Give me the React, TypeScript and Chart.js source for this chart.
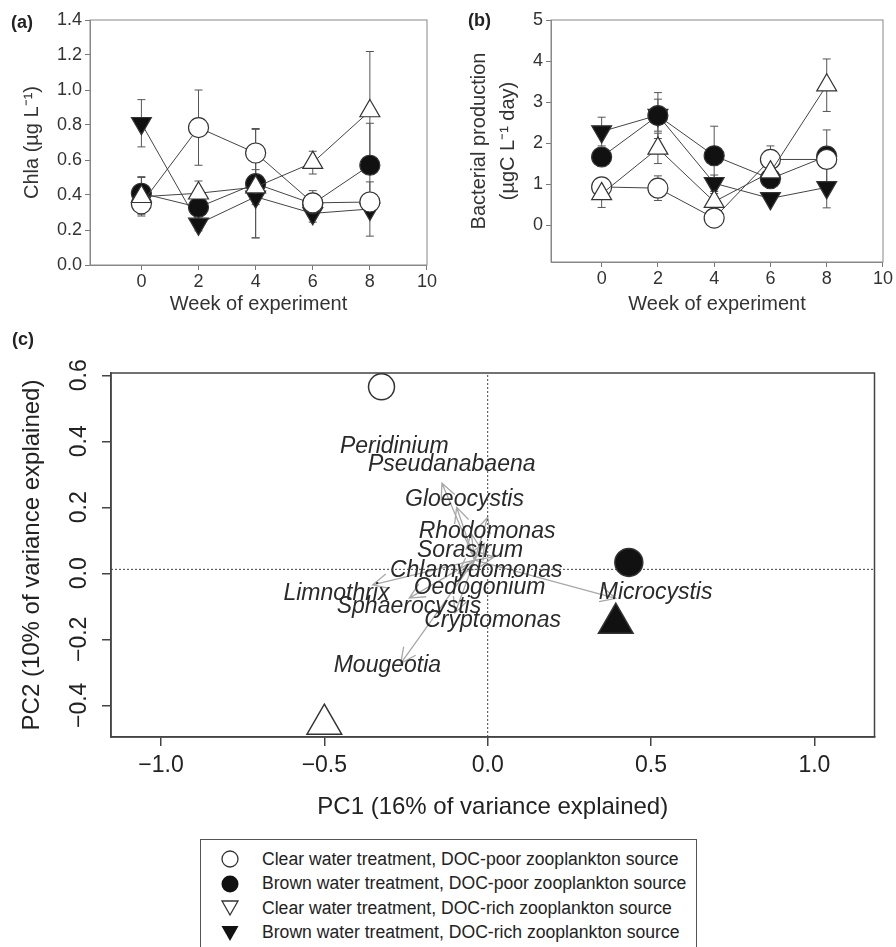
import React, { useEffect, useRef } from "react";
import { Chart, registerables } from "chart.js";
Chart.register(...registerables);

const FONT = '"Liberation Sans", Arial, Helvetica, sans-serif';

// ---------- shared ----------
const weeks = [0, 2, 4, 6, 8];
const weekTicks = [0, 2, 4, 6, 8, 10];
const treatmentNames = [
  "Clear water treatment, DOC-poor zooplankton source",
  "Brown water treatment, DOC-poor zooplankton source",
  "Clear water treatment, DOC-rich zooplankton source",
  "Brown water treatment, DOC-rich zooplankton source",
];

// ---------- (a) Chla ----------
const chlaTicks = [0, 0.2, 0.4, 0.6, 0.8, 1.0, 1.2, 1.4];
const chlaClearPoor = [0.35, 0.785, 0.64, 0.355, 0.36];
const chlaClearPoorSE = [0.06, 0.215, 0.14, 0.07, 0.05];
const chlaBrownPoor = [0.41, 0.33, 0.465, 0.35, 0.57];
const chlaBrownPoorSE = [0.095, 0.04, 0.31, 0.05, 0.24];
const chlaClearRich = [0.39, 0.41, 0.445, 0.585, 0.88];
const chlaClearRichSE = [0.11, 0.07, 0.1, 0.065, 0.34];
const chlaBrownRich = [0.81, 0.235, 0.39, 0.295, 0.32];
const chlaBrownRichSE = [0.135, 0.04, 0.235, 0.05, 0.155];

// ---------- (b) Bacterial production ----------
const bpTicks = [0, 1, 2, 3, 4, 5];
const bpClearPoor = [0.93, 0.9, 0.17, 1.6, 1.6];
const bpClearPoorSE = [0.18, 0.3, 0.1, 0.33, 0.16];
const bpBrownPoor = [1.66, 2.67, 1.69, 1.13, 1.68];
const bpBrownPoorSE = [0.12, 0.56, 0.72, 0.1, 0.64];
const bpClearRich = [0.76, 1.87, 0.57, 1.29, 3.41];
const bpClearRichSE = [0.33, 0.37, 0.2, 0.15, 0.64];
const bpBrownRich = [2.28, 2.68, 1.02, 0.65, 0.92];
const bpBrownRichSE = [0.35, 0.39, 0.2, 0.08, 0.5];

// ---------- (c) PCA ----------
const pcXTicks = [-1, -0.5, 0, 0.5, 1];
const pcYTicks = [-0.4, -0.2, 0, 0.2, 0.4, 0.6];
const pcXLimits = [-1.153, 1.184];
const pcYLimits = [-0.496, 0.607];
const pcRefX = 0;
const pcRefY = 0.012;
const pcGroupX = [-0.325, 0.432, -0.5, 0.392];
const pcGroupY = [0.565, 0.033, -0.457, -0.151];
const speciesNames = [
  "Peridinium", "Pseudanabaena", "Gloeocystis", "Rhodomonas", "Sorastrum", "Chlamydomonas",
  "Oedogonium", "Limnothrix", "Sphaerocystis", "Cryptomonas", "Microcystis", "Mougeotia",
];
const speciesLabelX = [-0.286, -0.11, -0.071, -0.002, -0.054, -0.035, -0.025, -0.463, -0.241, 0.015, 0.514, -0.307];
const speciesLabelY = [0.384, 0.328, 0.222, 0.126, 0.068, 0.008, -0.042, -0.063, -0.101, -0.142, -0.058, -0.28];
const arrowOriginX = -0.04;
const arrowOriginY = 0.04;
const speciesArrowX = [-0.14, -0.095, 0.0, -0.05, -0.01, 0.02, -0.09, -0.352, -0.24, -0.1, 0.392, -0.266];
const speciesArrowY = [0.273, 0.2, 0.17, 0.12, 0.09, 0.05, 0.0, -0.035, -0.075, -0.12, -0.076, -0.273];

// ---------- styles ----------
const markerStyles = [
  { pointStyle: "circle", fill: "#ffffff", rotation: 0, radius: 10, order: 1 },
  { pointStyle: "circle", fill: "#111111", rotation: 0, radius: 10, order: 2 },
  { pointStyle: "triangle", fill: "#ffffff", rotation: 0, radius: 11.5, order: 0 },
  { pointStyle: "triangle", fill: "#111111", rotation: 180, radius: 11.5, order: 3 },
];
const pcaMarkerStyles = [
  { pointStyle: "circle", fill: "#ffffff", rotation: 0, radius: 13 },
  { pointStyle: "circle", fill: "#111111", rotation: 0, radius: 14 },
  { pointStyle: "triangle", fill: "#ffffff", rotation: 0, radius: 20 },
  { pointStyle: "triangle", fill: "#111111", rotation: 0, radius: 20 },
];

const framePlugin = {
  id: "frame",
  beforeDatasetsDraw(chart: any, _a: any, opts: any) {
    const { ctx, chartArea: ca } = chart;
    ctx.save();
    ctx.strokeStyle = opts.color || "#777";
    ctx.lineWidth = opts.width || 1;
    ctx.strokeRect(ca.left, ca.top, ca.right - ca.left, ca.bottom - ca.top);
    ctx.restore();
  },
};

const errorBarPlugin = {
  id: "errbars",
  beforeDatasetsDraw(chart: any) {
    const { ctx, scales } = chart;
    const xs = scales.x, ys = scales.y;
    ctx.save();
    ctx.strokeStyle = "#555";
    ctx.lineWidth = 1;
    chart.data.datasets.forEach((ds: any) => {
      if (!ds.errors) return;
      ds.data.forEach((pt: any, j: number) => {
        const e = ds.errors[j];
        const px = xs.getPixelForValue(pt.x);
        const yt = ys.getPixelForValue(pt.y + e);
        const yb = ys.getPixelForValue(pt.y - e);
        ctx.beginPath();
        ctx.moveTo(px, yt); ctx.lineTo(px, yb);
        ctx.moveTo(px - 4, yt); ctx.lineTo(px + 4, yt);
        ctx.moveTo(px - 4, yb); ctx.lineTo(px + 4, yb);
        ctx.stroke();
      });
    });
    ctx.restore();
  },
};

function timeConfig(
  series: number[][], errs: number[][], yMin: number, yMax: number, yTicks: number[],
  yFmt: (v: number) => string, yTitle: string | string[], yTitleFont: any, yTitlePad: number,
  yWidth: number, xHeight: number, padRight: number
) {
  return {
    type: "line",
    data: {
      datasets: series.map((vals, i) => ({
        label: treatmentNames[i],
        data: vals.map((v, j) => ({ x: weeks[j], y: v })),
        errors: errs[i],
        borderColor: "#444",
        borderWidth: 1,
        pointStyle: markerStyles[i].pointStyle,
        pointRadius: markerStyles[i].radius,
        pointBackgroundColor: markerStyles[i].fill,
        pointBorderColor: "#333",
        pointBorderWidth: 1.2,
        pointRotation: markerStyles[i].rotation,
        order: markerStyles[i].order,
        clip: false,
        tension: 0,
      })),
    },
    plugins: [framePlugin, errorBarPlugin],
    options: {
      animation: false,
      responsive: false,
      events: [],
      layout: { padding: { left: 0, right: padRight, top: 20, bottom: 0 } },
      plugins: { legend: { display: false }, tooltip: { enabled: false }, frame: { color: "#888", width: 1 } },
      scales: {
        x: {
          type: "linear", min: -1.8, max: 10,
          afterBuildTicks: (s: any) => { s.ticks = weekTicks.map((v) => ({ value: v })); },
          afterFit: (s: any) => { s.height = xHeight; },
          grid: { drawOnChartArea: false, drawTicks: true, tickLength: 5, color: "#777" },
          border: { color: "#888", width: 1 },
          ticks: { font: { family: FONT, size: 18, lineHeight: 1 }, color: "#333", padding: 3, maxRotation: 0, callback: (v: any) => String(v) },
          title: { display: true, text: "Week of experiment", font: { family: FONT, size: 20 }, color: "#333", padding: { top: 0, bottom: 4 } },
        },
        y: {
          type: "linear", min: yMin, max: yMax,
          afterBuildTicks: (s: any) => { s.ticks = yTicks.map((v) => ({ value: v })); },
          afterFit: (s: any) => { s.width = yWidth; },
          grid: { drawOnChartArea: false, drawTicks: true, tickLength: 5, color: "#777" },
          border: { color: "#888", width: 1 },
          ticks: { font: { family: FONT, size: 18 }, color: "#333", padding: 3, callback: (v: any) => yFmt(v) },
          title: { display: true, text: yTitle, font: yTitleFont, color: "#333", padding: { top: yTitlePad, bottom: 0 } },
        },
      },
    },
  };
}

const minus = (s: string) => s.replace("-", "\u2212");

const pcaPlugin = {
  id: "pca",
  beforeDatasetsDraw(chart: any) {
    const { ctx, scales } = chart;
    const xs = scales.x, ys = scales.y;
    const ox = xs.getPixelForValue(arrowOriginX), oy = ys.getPixelForValue(arrowOriginY);
    ctx.save();
    ctx.strokeStyle = "#a8a8a8";
    ctx.lineWidth = 1.3;
    speciesArrowX.forEach((ax, i) => {
      const tx = xs.getPixelForValue(ax), ty = ys.getPixelForValue(speciesArrowY[i]);
      const ang = Math.atan2(ty - oy, tx - ox);
      const hl = 17, ha = 0.45;
      ctx.beginPath();
      ctx.moveTo(ox, oy); ctx.lineTo(tx, ty);
      ctx.moveTo(tx - hl * Math.cos(ang - ha), ty - hl * Math.sin(ang - ha));
      ctx.lineTo(tx, ty);
      ctx.lineTo(tx - hl * Math.cos(ang + ha), ty - hl * Math.sin(ang + ha));
      ctx.stroke();
    });
    ctx.fillStyle = "#2a2a2a";
    ctx.font = `italic 23px ${FONT}`;
    ctx.textAlign = "center";
    ctx.textBaseline = "middle";
    speciesNames.forEach((nm, i) => {
      ctx.fillText(nm, xs.getPixelForValue(speciesLabelX[i]), ys.getPixelForValue(speciesLabelY[i]));
    });
    ctx.restore();
  },
  afterDraw(chart: any) {
    const { ctx, scales } = chart;
    const ys = scales.y;
    ctx.save();
    ctx.fillStyle = "#222";
    ctx.font = `23px ${FONT}`;
    ctx.textAlign = "center";
    ctx.textBaseline = "middle";
    ys.ticks.forEach((t: any) => {
      const py = ys.getPixelForValue(t.value);
      ctx.save();
      ctx.translate(80, py);
      ctx.rotate(-Math.PI / 2);
      ctx.fillText(minus(t.value.toFixed(1)), 0, 0);
      ctx.restore();
    });
    ctx.restore();
  },
};

function pcaConfig() {
  const groups = pcGroupX.map((gx, i) => ({
    type: "scatter",
    label: treatmentNames[i],
    data: [{ x: gx, y: pcGroupY[i] }],
    pointStyle: pcaMarkerStyles[i].pointStyle,
    pointRadius: pcaMarkerStyles[i].radius,
    pointBackgroundColor: pcaMarkerStyles[i].fill,
    pointBorderColor: "#333",
    pointBorderWidth: 1.5,
    pointRotation: pcaMarkerStyles[i].rotation,
    clip: false,
    order: 0,
  }));
  const refs = [
    { type: "line", data: [{ x: pcXLimits[0], y: pcRefY }, { x: pcXLimits[1], y: pcRefY }] },
    { type: "line", data: [{ x: pcRefX, y: pcYLimits[0] }, { x: pcRefX, y: pcYLimits[1] }] },
  ].map((d) => ({ ...d, borderColor: "#444", borderWidth: 1, borderDash: [2, 2], pointRadius: 0, order: 5, label: "" }));
  return {
    type: "scatter",
    data: { datasets: [...groups, ...refs] },
    plugins: [framePlugin, pcaPlugin],
    options: {
      animation: false,
      responsive: false,
      events: [],
      layout: { padding: { left: 0, right: 15, top: 73, bottom: 0 } },
      plugins: { legend: { display: false }, tooltip: { enabled: false }, frame: { color: "#444", width: 1.5 } },
      scales: {
        x: {
          type: "linear", min: pcXLimits[0], max: pcXLimits[1],
          afterBuildTicks: (s: any) => { s.ticks = pcXTicks.map((v) => ({ value: v })); },
          afterFit: (s: any) => { s.height = 93; },
          grid: { drawOnChartArea: false, drawTicks: true, tickLength: 9, color: "#444", lineWidth: 1.5 },
          border: { color: "#444", width: 1.5 },
          ticks: { font: { family: FONT, size: 23 }, color: "#222", padding: 6, maxRotation: 0, callback: (v: any) => minus(Number(v).toFixed(1)) },
          title: { display: true, text: "PC1 (16% of variance explained)", font: { family: FONT, size: 24 }, color: "#222", padding: { top: 0, bottom: 8 } },
        },
        y: {
          type: "linear", min: pcYLimits[0], max: pcYLimits[1],
          afterBuildTicks: (s: any) => { s.ticks = pcYTicks.map((v) => ({ value: v })); },
          afterFit: (s: any) => { s.width = 111; },
          grid: { drawOnChartArea: false, drawTicks: true, tickLength: 9, color: "#444", lineWidth: 1.5 },
          border: { color: "#444", width: 1.5 },
          ticks: { display: false },
          title: { display: true, text: "PC2 (10% of variance explained)", font: { family: FONT, size: 24 }, color: "#222", padding: { top: 18, bottom: 0 } },
        },
      },
    },
  };
}

function ChartCanvas({ left, top, width, height, build }: any) {
  const ref = useRef<HTMLCanvasElement | null>(null);
  useEffect(() => {
    const chart = new Chart(ref.current as HTMLCanvasElement, build());
    return () => chart.destroy();
  }, []);
  return (
    <canvas
      ref={ref}
      width={width}
      height={height}
      style={{ position: "absolute", left, top, width, height }}
    />
  );
}

const legendIcons = [
  <svg width="20" height="20" key="0"><circle cx="10" cy="10" r="8" fill="#fff" stroke="#333" strokeWidth="1.3" /></svg>,
  <svg width="20" height="20" key="1"><circle cx="10" cy="10" r="8.5" fill="#111" /></svg>,
  <svg width="20" height="20" key="2"><polygon points="2,3 18,3 10,17" fill="#fff" stroke="#333" strokeWidth="1.3" /></svg>,
  <svg width="20" height="20" key="3"><polygon points="1.5,3 18.5,3 10,18" fill="#111" /></svg>,
];

const panelLabel = (txt: string, left: number, top: number) => (
  <div style={{ position: "absolute", left, top, fontFamily: FONT, fontWeight: "bold", fontSize: 18, lineHeight: "18px", color: "#222" }}>{txt}</div>
);

export default function App() {
  return (
    <div style={{ position: "absolute", left: 0, top: 0, width: 896, height: 947, background: "#fff", overflow: "hidden" }}>
      <ChartCanvas
        left={0} top={0} width={440} height={320}
        build={() => timeConfig(
          [chlaClearPoor, chlaBrownPoor, chlaClearRich, chlaBrownRich],
          [chlaClearPoorSE, chlaBrownPoorSE, chlaClearRichSE, chlaBrownRichSE],
          0, 1.4, chlaTicks, (v) => Number(v).toFixed(1), "Chla (\u00b5g L\u207b\u00b9)",
          { family: FONT, size: 20 }, 20, 90, 55, 8
        )}
      />
      <ChartCanvas
        left={440} top={0} width={456} height={320}
        build={() => timeConfig(
          [bpClearPoor, bpBrownPoor, bpClearRich, bpBrownRich],
          [bpClearPoorSE, bpBrownPoorSE, bpClearRichSE, bpBrownRichSE],
          -0.9, 5, bpTicks, (v) => String(v), ["Bacterial production", "(\u00b5gC L\u207b\u00b9 day)"],
          { family: FONT, size: 20, lineHeight: 1.45 }, 25, 111, 58, 9
        )}
      />
      <ChartCanvas left={0} top={300} width={896} height={530} build={() => pcaConfig()} />
      {panelLabel("(a)", 11, 13)}
      {panelLabel("(b)", 468, 11)}
      {panelLabel("(c)", 12, 330)}
      <div style={{ position: "absolute", left: 200, top: 839, width: 497, height: 140, border: "1.5px solid #555", boxSizing: "border-box" }}>
        {treatmentNames.map((nm, i) => (
          <div key={i} style={{ position: "absolute", left: 19, top: 7 + i * 24.5, height: 24, display: "flex", alignItems: "center" }}>
            <div style={{ width: 20, height: 20 }}>{legendIcons[i]}</div>
            <div style={{ marginLeft: 22, fontFamily: FONT, fontSize: 17.6, color: "#222", whiteSpace: "nowrap" }}>{nm}</div>
          </div>
        ))}
      </div>
    </div>
  );
}
